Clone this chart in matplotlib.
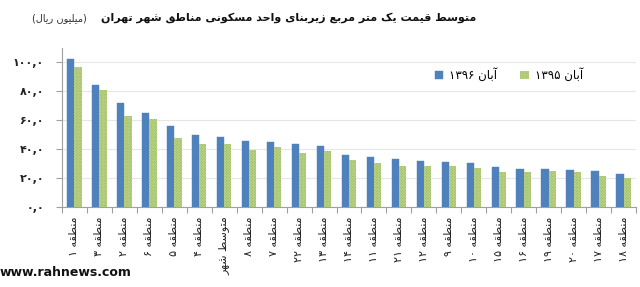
import matplotlib
matplotlib.use("Agg")
import matplotlib.pyplot as plt
import numpy as np

# ---------------- data ----------------
categories = ["منطقه ۱", "منطقه ۳", "منطقه ۲", "منطقه ۶", "منطقه ۵", "منطقه ۴",
              "متوسط شهر", "منطقه ۸", "منطقه ۷", "منطقه ۲۲", "منطقه ۱۳", "منطقه ۱۴",
              "منطقه ۱۱", "منطقه ۲۱", "منطقه ۱۲", "منطقه ۹", "منطقه ۱۰", "منطقه ۱۵",
              "منطقه ۱۶", "منطقه ۱۹", "منطقه ۲۰", "منطقه ۱۷", "منطقه ۱۸"]
values_1396 = [102.4, 84.4, 71.9, 64.7, 55.7, 50.1, 48.3, 46.0, 45.0, 43.4, 42.5, 36.1,
               34.6, 33.0, 31.9, 31.1, 30.4, 27.6, 26.5, 26.5, 25.6, 24.7, 22.8]
values_1395 = [97.1, 80.9, 63.3, 60.8, 47.6, 43.4, 43.4, 39.4, 41.5, 37.6, 39.0, 32.5,
               30.7, 28.6, 28.6, 28.1, 27.2, 24.2, 24.4, 24.9, 24.0, 21.7, 20.3]
series_names = ["آبان ۱۳۹۶", "آبان ۱۳۹۵"]
y_ticks = [0, 20, 40, 60, 80, 100]
title = "متوسط قیمت یک متر مربع زیربنای واحد مسکونی مناطق شهر تهران"
unit = "میلیون ریال"
watermark = "www.rahnews.com"

# ---------------- minimal Persian shaping ----------------
FORMS = {  # isolated, final, initial, medial
    'ا': ('\uFE8D', '\uFE8E', None, None),
    'آ': ('\uFE81', '\uFE82', None, None),
    'ب': ('\uFE8F', '\uFE90', '\uFE91', '\uFE92'),
    'ت': ('\uFE95', '\uFE96', '\uFE97', '\uFE98'),
    'ح': ('\uFEA1', '\uFEA2', '\uFEA3', '\uFEA4'),
    'د': ('\uFEA9', '\uFEAA', None, None),
    'ر': ('\uFEAD', '\uFEAE', None, None),
    'ز': ('\uFEAF', '\uFEB0', None, None),
    'س': ('\uFEB1', '\uFEB2', '\uFEB3', '\uFEB4'),
    'ش': ('\uFEB5', '\uFEB6', '\uFEB7', '\uFEB8'),
    'ط': ('\uFEC1', '\uFEC2', '\uFEC3', '\uFEC4'),
    'ع': ('\uFEC9', '\uFECA', '\uFECB', '\uFECC'),
    'ق': ('\uFED5', '\uFED6', '\uFED7', '\uFED8'),
    'ل': ('\uFEDD', '\uFEDE', '\uFEDF', '\uFEE0'),
    'م': ('\uFEE1', '\uFEE2', '\uFEE3', '\uFEE4'),
    'ن': ('\uFEE5', '\uFEE6', '\uFEE7', '\uFEE8'),
    'ه': ('\uFEE9', '\uFEEA', '\uFEEB', '\uFEEC'),
    'و': ('\uFEED', '\uFEEE', None, None),
    'ی': ('\uFBFC', '\uFBFD', '\uFBFE', '\uFBFF'),
    'ک': ('\uFB8E', '\uFB8F', '\uFB90', '\uFB91'),
}


def shape_word(w):
    out = []
    n = len(w)
    for i, c in enumerate(w):
        if c not in FORMS:
            out.append(c)
            continue
        f = FORMS[c]
        prev_j = i > 0 and w[i - 1] in FORMS and FORMS[w[i - 1]][2] is not None
        next_j = f[2] is not None and i + 1 < n and w[i + 1] in FORMS
        if prev_j and next_j:
            out.append(f[3])
        elif prev_j:
            out.append(f[1])
        elif next_j:
            out.append(f[2])
        else:
            out.append(f[0])
    return ''.join(out)


def is_digits(w):
    return all('\u06F0' <= ch <= '\u06F9' or ch in ',.' for ch in w)


def vis(s):
    words = s.split(' ')
    vw = []
    for w in words:
        if is_digits(w):
            vw.append(w)
        else:
            vw.append(shape_word(w)[::-1])
    return ' '.join(reversed(vw))


def fa_num(v):
    d = '۰۱۲۳۴۵۶۷۸۹'
    s = f"{v:.1f}".replace('.', ',')
    return ''.join(d[int(ch)] if ch.isdigit() else ch for ch in s)


# ---------------- plot ----------------
plt.rcParams['font.family'] = ['DejaVu Sans']
plt.rcParams['hatch.linewidth'] = 0.6

fig = plt.figure(figsize=(6.4, 2.87), dpi=100)
ax = fig.add_axes([62 / 640, 1 - 207 / 287, (636 - 62) / 640, (207 - 48) / 287])

x = np.arange(len(categories))
w = 0.29
blue = '#4F81BD'
green = '#9BBB59'
ax.bar(x - w / 2, values_1396, width=w, color=blue, edgecolor=blue, linewidth=0.3,
       label=vis(series_names[0]), zorder=3)
ax.bar(x + w / 2, values_1395, width=w, color=green, edgecolor='#B8D186', linewidth=0,
       hatch='xxxxxxxxxxxx', label=vis(series_names[1]), zorder=3)

ax.set_xlim(-0.5, len(categories) - 0.5)
ax.set_ylim(0, 110)
ax.set_yticks(y_ticks)
ax.set_yticklabels([fa_num(v) for v in y_ticks], fontsize=8, fontweight='bold', color='#222222')
ax.yaxis.grid(True, color='#E6E6E6', linewidth=0.8, zorder=0)
ax.set_axisbelow(True)

ax.set_xticks(x)
ax.set_xticklabels([vis(c) for c in categories], rotation=90, fontsize=8, va='top', ha='center',
                   color='#222222')
ax.set_xticks(np.arange(len(categories) + 1) - 0.5, minor=True)
ax.tick_params(axis='x', which='major', length=0, pad=7)
ax.tick_params(axis='x', which='minor', length=4, color='#A0A0A0', width=0.8, direction='out')
ax.tick_params(axis='y', length=4, color='#A0A0A0', width=0.8, pad=9)

for s in ['top', 'right']:
    ax.spines[s].set_visible(False)
for s in ['left', 'bottom']:
    ax.spines[s].set_color('#A0A0A0')
    ax.spines[s].set_linewidth(0.8)

leg = ax.legend(loc='upper left', bbox_to_anchor=(362 / 574, 0.94), ncol=2, frameon=False,
                fontsize=8.5, handlelength=0.7, handleheight=0.7, columnspacing=2.0,
                handletextpad=0.5)

fig.text(289 / 640, 1 - 18 / 287, vis(title), ha='center', va='center', fontsize=8,
         fontweight='bold', color='#111111')
fig.text(59 / 640, 1 - 18 / 287, "(" + vis(unit) + ")", ha='center', va='center',
         fontsize=7, color='#333333')
fig.text(0 / 640, 1 - 272 / 287, watermark, ha='left', va='center', fontsize=9,
         fontweight='bold', color='#111111')

fig.savefig('out.png', dpi=100)
